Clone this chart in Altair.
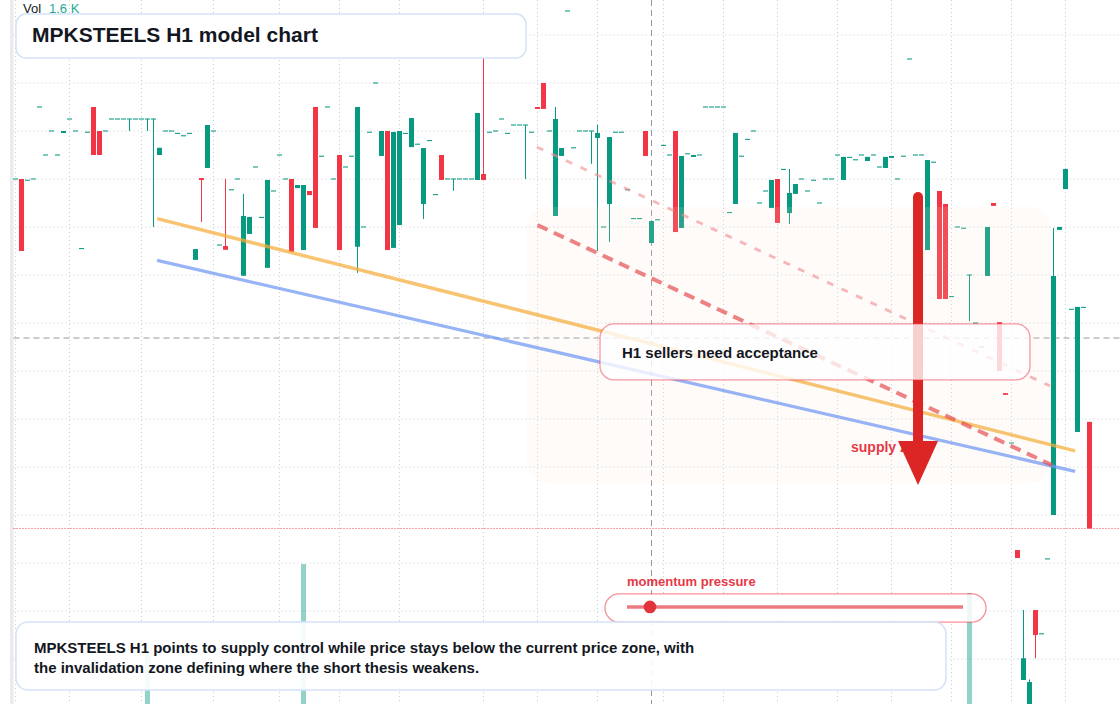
import altair as alt
import pandas as pd

# ---------------- data (H1 candles, oldest -> newest) ----------------
opens = [
    126.0, 126.0, 125.95, 126.0, 129.0, 127.0, 128.0, 127.0, 127.92, 128.5,
    128.0, 123.1, 127.95, 129.0, 128.0, 128.0, 128.5, 128.5, 128.5, 128.5,
    128.5, 128.5, 128.5, 128.5, 127.0, 128.0, 128.0, 127.9, 127.8, 127.9,
    122.63, 126.04, 126.46, 128.0, 123.25, 123.21, 125.55, 126.0, 121.97, 123.71,
    126.5, 124.4, 122.3, 125.5, 127.0, 126.0, 126.0, 125.62, 123.04, 125.5,
    129.0, 126.95, 129.0, 126.0, 127.0, 126.5, 126.95, 123.18, 124.0, 127.95,
    130.0, 126.96, 128.0, 123.13, 124.08, 127.9, 127.33, 127.45, 124.96, 127.6,
    125.35, 127.0, 126.0, 126.0, 126.0, 126.0, 126.0, 125.96, 126.21, 127.95,
    128.0, 128.5, 127.9, 128.25, 128.25, 128.25, 127.95, 129.0, 130.0, 128.0,
    124.46, 126.96, 133.0, 127.3, 128.0, 128.0, 128.0, 127.71, 124.0, 124.96,
    127.95, 127.95, 125.55, 124.35, 124.35, 128.0, 123.33, 124.3, 127.4, 127.0,
    128.0, 123.96, 127.05, 126.92, 127.0, 129.0, 129.0, 129.0, 129.0, 124.6,
    124.96, 126.95, 127.65, 128.0, 125.0, 125.5, 124.79, 126.0, 126.4, 124.58,
    125.38, 126.0, 125.5, 125.95, 125.0, 126.0, 126.0, 127.0, 125.96, 126.9,
    126.8, 127.0, 126.75, 127.0, 126.5, 126.46, 126.88, 126.0, 126.95, 131.0,
    127.0, 127.0, 123.04, 126.7, 125.5, 124.96, 121.1, 124.0, 123.95, 122.0,
    120.0, 119.0, 121.96, 125.0, 120.04, 117.08, 115.0, 110.54, 105.13, 103.5,
    108.04, 107.05, 110.17, 112.0, 123.88, 125.58, 120.57, 115.46, 120.65, 115.88,
]
closes = [
    126.0, 123.0, 125.95, 126.0, 129.0, 127.0, 128.0, 127.0, 128.0, 128.5,
    128.0, 123.1, 127.95, 127.0, 127.0, 128.0, 128.5, 128.5, 128.5, 128.5,
    128.5, 128.5, 128.5, 128.5, 127.3, 128.0, 128.0, 127.9, 127.8, 127.9,
    123.08, 125.96, 128.25, 128.0, 123.25, 123.05, 125.55, 126.0, 124.46, 124.42,
    126.5, 124.4, 125.96, 125.5, 127.0, 126.0, 122.96, 125.75, 125.75, 125.33,
    123.96, 126.95, 129.0, 126.0, 123.04, 126.5, 126.95, 129.0, 124.0, 127.95,
    130.0, 128.0, 123.04, 127.96, 128.0, 127.9, 128.54, 127.45, 127.29, 127.6,
    125.35, 125.96, 126.0, 126.0, 126.0, 126.0, 126.0, 128.75, 125.96, 127.95,
    128.0, 128.5, 127.9, 128.25, 128.25, 128.25, 127.95, 128.92, 128.92, 128.0,
    128.5, 127.29, 133.0, 127.3, 128.0, 128.0, 128.0, 127.92, 124.0, 127.75,
    127.95, 127.95, 125.55, 124.35, 124.35, 126.96, 124.25, 124.3, 127.4, 127.0,
    123.79, 126.96, 127.05, 127.0, 127.0, 129.0, 129.0, 129.0, 129.0, 124.6,
    127.92, 126.95, 127.65, 128.0, 125.0, 125.5, 125.96, 124.17, 126.4, 125.42,
    125.79, 126.0, 125.5, 125.95, 125.0, 126.0, 126.0, 127.0, 126.92, 126.9,
    126.8, 127.0, 126.92, 127.0, 126.5, 126.92, 126.96, 126.0, 126.95, 131.0,
    127.0, 127.0, 126.79, 126.7, 121.0, 121.0, 121.1, 124.0, 123.95, 122.0,
    120.0, 119.0, 124.0, 124.88, 118.0, 117.0, 115.0, 110.21, 106.03, 105.04,
    107.0, 107.05, 110.17, 121.96, 124.0, 126.42, 120.57, 120.67, 120.65, 111.44,
]
highs = [
    126.0, 126.0, 125.95, 126.0, 129.0, 127.0, 128.0, 127.0, 128.0, 128.5,
    128.0, 123.1, 127.95, 129.0, 128.0, 128.0, 128.5, 128.5, 128.5, 128.5,
    128.5, 128.5, 128.5, 128.5, 127.3, 128.0, 128.0, 127.9, 127.8, 127.9,
    123.08, 126.04, 128.25, 128.0, 123.25, 126.0, 125.55, 126.0, 125.38, 124.42,
    126.5, 124.4, 125.96, 125.5, 127.0, 126.0, 126.0, 125.75, 125.75, 125.5,
    129.0, 126.95, 129.0, 126.0, 127.0, 126.5, 126.95, 129.0, 124.0, 127.95,
    130.0, 128.0, 128.0, 127.96, 128.0, 127.9, 128.54, 127.45, 127.29, 127.6,
    125.35, 127.0, 126.0, 126.0, 126.0, 126.0, 126.0, 128.75, 131.03, 127.95,
    128.0, 128.5, 127.9, 128.25, 128.25, 128.25, 127.95, 129.0, 130.0, 128.0,
    129.0, 127.29, 133.0, 127.3, 128.0, 128.0, 128.0, 128.25, 124.0, 127.75,
    127.95, 127.95, 125.55, 124.35, 124.35, 128.0, 124.25, 124.3, 127.4, 127.0,
    128.0, 126.96, 127.05, 127.0, 127.0, 129.0, 129.0, 129.0, 129.0, 124.6,
    127.92, 126.95, 127.65, 128.0, 125.0, 125.5, 125.96, 126.0, 126.4, 126.42,
    125.79, 126.0, 125.5, 125.95, 125.0, 126.0, 126.0, 127.0, 126.92, 126.9,
    126.8, 127.0, 126.92, 127.0, 126.5, 126.92, 126.96, 126.0, 126.95, 131.0,
    127.0, 127.0, 126.79, 126.7, 125.5, 124.96, 121.1, 124.0, 123.95, 122.0,
    120.0, 119.0, 124.0, 125.0, 120.04, 117.08, 115.0, 110.54, 108.04, 105.15,
    108.04, 107.05, 110.17, 123.96, 124.0, 126.42, 120.57, 120.67, 120.65, 115.88,
]
lows = [
    126.0, 123.0, 125.95, 126.0, 129.0, 127.0, 128.0, 127.0, 127.92, 128.5,
    128.0, 123.1, 127.95, 127.0, 127.0, 128.0, 128.5, 128.5, 128.5, 128.0,
    128.5, 128.5, 128.0, 124.0, 127.0, 128.0, 128.0, 127.9, 127.8, 127.9,
    122.63, 124.21, 126.46, 128.0, 123.25, 123.05, 125.55, 126.0, 121.97, 123.71,
    126.5, 124.4, 122.3, 125.5, 127.0, 126.0, 122.96, 125.62, 123.04, 125.33,
    123.96, 126.95, 129.0, 126.0, 123.04, 126.5, 126.95, 122.09, 124.0, 127.95,
    130.0, 126.96, 123.04, 123.13, 124.08, 127.9, 127.33, 127.45, 124.33, 127.6,
    125.35, 125.96, 126.0, 125.51, 126.0, 126.0, 126.0, 125.96, 125.96, 127.95,
    128.0, 128.5, 127.9, 128.25, 128.25, 126.0, 127.95, 128.92, 128.92, 128.0,
    124.46, 126.96, 133.0, 127.3, 128.0, 128.0, 126.63, 123.0, 124.0, 123.38,
    127.95, 127.95, 125.55, 124.35, 124.35, 126.96, 123.33, 124.3, 127.4, 127.0,
    123.79, 123.96, 127.05, 126.92, 127.0, 129.0, 129.0, 129.0, 129.0, 124.6,
    124.96, 126.95, 127.65, 128.0, 125.0, 125.5, 124.79, 124.17, 126.4, 124.13,
    125.38, 126.0, 125.5, 125.95, 125.0, 126.0, 126.0, 127.0, 125.96, 126.9,
    126.8, 127.0, 126.75, 127.0, 126.5, 126.46, 126.88, 126.0, 126.95, 131.0,
    127.0, 127.0, 123.04, 126.7, 121.0, 121.0, 121.1, 124.0, 123.95, 120.08,
    120.0, 119.0, 121.96, 124.88, 118.0, 117.0, 115.0, 110.21, 105.13, 103.5,
    106.03, 107.05, 110.17, 112.0, 123.88, 125.58, 120.57, 115.46, 120.65, 111.44,
]

# visible volume bars (bar index, volume)
vol_index = [22, 48, 159]
vol_value = [1020, 2800, 2220]

# axis ticks
price_grid = [104, 106, 108, 110, 112, 114, 116, 118, 120, 122, 124, 126, 128, 130, 132]
time_ticks = [0, 9, 21, 33, 44, 54, 64, 78, 87, 97, 108, 118, 127, 137, 146, 156, 166, 175]

# annotation anchors (bar index, price)
trend_upper_i = [23.6, 176.6]
trend_upper_p = [124.35, 114.67]
trend_lower_i = [23.6, 176.6]
trend_lower_p = [122.61, 113.82]
sell_path_i = [87.0, 172.75]
sell_path_p = [124.08, 114.08]
soft_path_i = [86.9, 172.4]
soft_path_p = [127.33, 117.38]
zone_i = [85.25, 172.58]
zone_p = [124.83, 113.33]
crosshair_i = 106
crosshair_p = 119.375
arrow_i = 150.42
arrow_p = [125.25, 114.92, 114.17]
label_box_i = [97.42, 169.08]
label_box_p = [119.96, 117.63]
momentum_box_i = [98.25, 161.75]
momentum_box_p = [108.71, 107.54]
momentum_line_i = [101.92, 157.92]
momentum_p = 108.17
momentum_dot_i = 105.75

title = "MPKSTEELS H1 model chart"
caption1 = "MPKSTEELS H1 points to supply control while price stays below the current price zone, with"
caption2 = "the invalidation zone defining where the short thesis weakens."
label_text = "H1 sellers need acceptance"
FONT = "Liberation Sans"
UP, DOWN = "#089981", "#f23645"

W, H = 1120, 704
xs = alt.Scale(domain=[-2.583333, 184.083333], nice=False, zero=False)
ys = alt.Scale(domain=[104.125, 133.458333], nice=False, zero=False)


def X(f):
    return alt.X(f, type="quantitative", scale=xs, axis=None)


def X2(f):
    return alt.X2(f)


def Y(f):
    return alt.Y(f, type="quantitative", scale=ys, axis=None)


rows = []
for i, (o, h, l, c) in enumerate(zip(opens, highs, lows, closes)):
    top, bot = max(o, c), min(o, c)
    if top - bot < 0.045:
        mid = (top + bot) / 2
        top, bot = mid + 0.022, mid - 0.022
    rows.append(dict(i=i, x0=i - 0.42, x1=i + 0.42, high=h, low=l, top=top, bot=bot,
                     dir="down" if c < o else "up"))
candles = pd.DataFrame(rows)
color = alt.Color("dir:N", scale=alt.Scale(domain=["up", "down"], range=[UP, DOWN]), legend=None)

one = pd.DataFrame({"a": [0]})

strip = alt.Chart(one).mark_rect(fill="#ebebed").encode(
    x=alt.value(10), x2=alt.value(13.5), y=alt.value(0), y2=alt.value(H))

hgrid = alt.Chart(pd.DataFrame({"p": price_grid})).mark_rule(
    stroke="#c9ccd2", strokeWidth=1, strokeDash=[1, 3]).encode(
    y=Y("p"), x=alt.value(13.5), x2=alt.value(W))
vgrid = alt.Chart(pd.DataFrame({"i": time_ticks})).mark_rule(
    stroke="#c9ccd2", strokeWidth=1, strokeDash=[1, 3]).encode(
    x=X("i"), y=alt.value(0), y2=alt.value(H))

vol_df = pd.DataFrame({"x0": [v - 0.42 for v in vol_index], "x1": [v + 0.42 for v in vol_index],
                       "vol": vol_value})
volume = alt.Chart(vol_df).mark_rect(fill=UP, opacity=0.44).encode(
    x=X("x0"), x2=X2("x1"),
    y=alt.Y("vol:Q", scale=alt.Scale(domain=[0, 14080], nice=False, zero=True), axis=None),
    y2=alt.value(H))

cross_v = alt.Chart(pd.DataFrame({"i": [crosshair_i]})).mark_rule(
    stroke="#9598a1", strokeWidth=1, strokeDash=[6, 4]).encode(
    x=X("i"), y=alt.value(0), y2=alt.value(H))
cross_h = alt.Chart(pd.DataFrame({"p": [crosshair_p]})).mark_rule(
    stroke="#9598a1", strokeWidth=1, strokeDash=[6, 4]).encode(
    y=Y("p"), x=alt.value(13.5), x2=alt.value(W))

wicks = alt.Chart(candles).mark_rule(strokeWidth=1, clip=True).encode(
    x=X("i"), y=Y("low"), y2=alt.Y2("high"), color=color)
bodies = alt.Chart(candles).mark_rect(clip=True).encode(
    x=X("x0"), x2=X2("x1"), y=Y("bot"), y2=alt.Y2("top"), color=color)

zone = alt.Chart(pd.DataFrame({"x0": [zone_i[0]], "x1": [zone_i[1]],
                               "p0": [zone_p[0]], "p1": [zone_p[1]]})).mark_rect(
    fill="#f7e6d6", fillOpacity=0.14, cornerRadius=22).encode(
    x=X("x0"), x2=X2("x1"), y=Y("p0"), y2=alt.Y2("p1"))


def seg(ii, pp, **kw):
    return alt.Chart(pd.DataFrame({"i": ii, "p": pp})).mark_line(**kw).encode(
        x=X("i"), y=Y("p"))


orange = seg(trend_upper_i, trend_upper_p, stroke="#f5ad3b", strokeWidth=3.5, opacity=0.72)
blue = seg(trend_lower_i, trend_lower_p, stroke="#6f97f3", strokeWidth=3.2, opacity=0.72)
soft = seg(soft_path_i, soft_path_p, stroke="#f08a8f", strokeWidth=2.8, opacity=0.6,
           strokeDash=[7, 9])
sell = seg(sell_path_i, sell_path_p, stroke="#e5484d", strokeWidth=4, opacity=0.68,
           strokeDash=[11, 7])

last_line = alt.Chart(pd.DataFrame({"p": [closes[-1]]})).mark_rule(
    stroke=DOWN, strokeWidth=1, strokeDash=[1, 2]).encode(
    y=Y("p"), x=alt.value(13.5), x2=alt.value(W))

supply_txt = alt.Chart(pd.DataFrame({"i": [139.25], "p": [114.79], "t": ["supply zone"]})).mark_text(
    align="left", baseline="middle", font=FONT, fontSize=14, fontWeight="bold", color="#e63946").encode(
    x=X("i"), y=Y("p"), text="t:N")

shaft = alt.Chart(pd.DataFrame({"i": [arrow_i], "p0": [arrow_p[0]], "p1": [arrow_p[1]]})).mark_rule(
    stroke="#dc2626", strokeWidth=10, strokeCap="round").encode(
    x=X("i"), y=Y("p0"), y2=alt.Y2("p1"))
head = alt.Chart(pd.DataFrame({"i": [arrow_i], "p": [arrow_p[2]]})).mark_point(
    shape="M-1,-1.1L1,-1.1L0,1.1Z", size=1600, filled=True, fill="#dc2626", opacity=1,
    strokeWidth=0).encode(x=X("i"), y=Y("p"))

label_box = alt.Chart(pd.DataFrame({"x0": [label_box_i[0]], "x1": [label_box_i[1]],
                                    "p0": [label_box_p[0]], "p1": [label_box_p[1]]})).mark_rect(
    fill="white", fillOpacity=0.78, stroke="#f23645", strokeOpacity=0.5, strokeWidth=1.3,
    cornerRadius=14).encode(x=X("x0"), x2=X2("x1"), y=Y("p0"), y2=alt.Y2("p1"))
label = alt.Chart(pd.DataFrame({"i": [101.08], "p": [118.75], "t": [label_text]})).mark_text(
    align="left", baseline="middle", font=FONT, fontSize=15, fontWeight="bold", color="#131722").encode(
    x=X("i"), y=Y("p"), text="t:N")

mom_box = alt.Chart(pd.DataFrame({"x0": [momentum_box_i[0]], "x1": [momentum_box_i[1]],
                                  "p0": [momentum_box_p[0]], "p1": [momentum_box_p[1]]})).mark_rect(
    fill="white", fillOpacity=0.85, stroke="#f23645", strokeOpacity=0.55, strokeWidth=1.3,
    cornerRadius=14).encode(x=X("x0"), x2=X2("x1"), y=Y("p0"), y2=alt.Y2("p1"))
mom_line = seg(momentum_line_i, [momentum_p, momentum_p], stroke="#ec7b80", strokeWidth=3.5)
mom_dot = alt.Chart(pd.DataFrame({"i": [momentum_dot_i], "p": [momentum_p]})).mark_circle(
    size=160, color="#e0353b", opacity=1).encode(x=X("i"), y=Y("p"))
mom_txt = alt.Chart(pd.DataFrame({"i": [momentum_line_i[0]], "p": [109.21], "t": ["momentum pressure"]})).mark_text(
    align="left", baseline="middle", font=FONT, fontSize=13, fontWeight="bold", color="#e63946").encode(
    x=X("i"), y=Y("p"), text="t:N")

cap_box = alt.Chart(one).mark_rect(
    fill="white", fillOpacity=0.9, stroke="#d3e2f8", strokeWidth=1.5, cornerRadius=12).encode(
    x=alt.value(16), x2=alt.value(946), y=alt.value(622), y2=alt.value(690))
cap = alt.Chart(pd.DataFrame({"t": [caption1, caption2], "y": [647.5, 667.5]})).mark_text(
    align="left", baseline="middle", font=FONT, fontSize=15, fontWeight="bold", color="#131722").encode(
    x=alt.value(34), y=alt.Y("y:Q", scale=None, axis=None), text="t:N")

title_box = alt.Chart(one).mark_rect(
    fill="white", fillOpacity=0.95, stroke="#d3e2f8", strokeWidth=1.5, cornerRadius=10).encode(
    x=alt.value(16), x2=alt.value(526), y=alt.value(14), y2=alt.value(58))
title_txt = alt.Chart(pd.DataFrame({"t": [title]})).mark_text(
    align="left", baseline="middle", font=FONT, fontSize=21, fontWeight="bold", color="#131722").encode(
    x=alt.value(32), y=alt.value(36), text="t:N")
vol_lbl = alt.Chart(pd.DataFrame({"t": ["Vol"]})).mark_text(
    align="left", baseline="middle", font=FONT, fontSize=13, color="#131722").encode(
    x=alt.value(23), y=alt.value(8.5), text="t:N")
vol_val = alt.Chart(pd.DataFrame({"t": ["1.6 K"]})).mark_text(
    align="left", baseline="middle", font=FONT, fontSize=13, color="#22ab94").encode(
    x=alt.value(49), y=alt.value(8.5), text="t:N")

chart = alt.layer(
    strip, hgrid, vgrid, volume, cross_v, cross_h, wicks, bodies, zone,
    orange, blue, soft, sell, last_line, supply_txt, shaft, head,
    label_box, label, mom_box, mom_line, mom_dot, mom_txt,
    cap_box, cap, title_box, title_txt, vol_lbl, vol_val,
).resolve_scale(y="independent").properties(
    width=W, height=H, padding=0, autosize=alt.AutoSizeParams(type="none"), background="white"
).configure_view(stroke=None)

chart.save("out.html", embed_options={"renderer": "svg", "actions": False})
